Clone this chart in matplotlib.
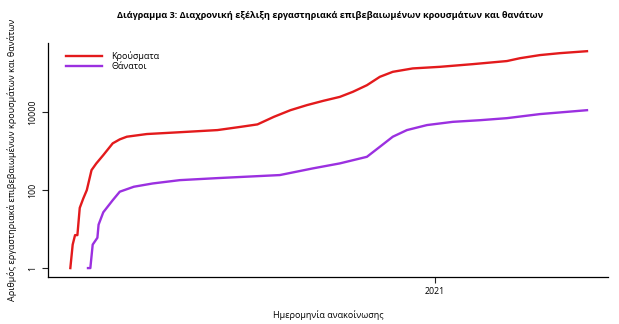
import pandas as pd
import matplotlib.pyplot as plt
import matplotlib.dates as mdates
from matplotlib.ticker import FixedLocator, FixedFormatter

plt.rcParams['font.family'] = ['Open Sans', 'DejaVu Sans']

# Cumulative confirmed cases
case_dates = ['2020-02-26', '2020-02-28', '2020-03-01', '2020-03-03', '2020-03-05',
              '2020-03-08', '2020-03-11', '2020-03-15', '2020-03-19', '2020-03-25',
              '2020-04-02', '2020-04-08', '2020-04-14', '2020-05-01', '2020-05-29',
              '2020-06-30', '2020-07-20', '2020-08-03', '2020-08-17', '2020-08-31',
              '2020-09-14', '2020-09-28', '2020-10-12', '2020-10-23', '2020-11-04',
              '2020-11-15', '2020-11-26', '2020-12-13', '2021-01-05', '2021-02-02',
              '2021-03-03', '2021-03-14', '2021-03-31', '2021-04-17', '2021-05-10']
case_values = [1, 4, 7, 7, 35,
               61, 100, 325, 480, 790,
               1580, 2000, 2340, 2740, 3050,
               3460, 4200, 4840, 7580, 11200,
               15100, 19500, 24600, 33100, 49000,
               80400, 108000, 132000, 145000, 170000,
               204000, 241000, 290000, 325000, 365000]

# Cumulative deaths
death_dates = ['2020-03-12', '2020-03-14', '2020-03-16', '2020-03-20', '2020-03-21',
               '2020-03-25', '2020-04-02', '2020-04-08', '2020-04-20', '2020-05-06',
               '2020-05-29', '2020-06-30', '2020-08-22', '2020-09-19', '2020-10-12',
               '2020-11-04', '2020-11-15', '2020-11-26', '2020-12-08', '2020-12-25',
               '2021-01-16', '2021-02-08', '2021-03-03', '2021-03-31', '2021-05-10']
death_values = [1, 1, 4, 6, 13,
                27, 55, 91, 122, 148,
                180, 203, 243, 360, 484,
                714, 1290, 2340, 3460, 4650,
                5630, 6200, 7000, 8900, 11200]

series_labels = ['Κρούσματα', 'Θάνατοι']
y_ticks = [1, 100, 10000]
y_tick_labels = ['1', '100', '10000']

fig = plt.figure(figsize=(6.19, 3.24), dpi=100)
ax = fig.add_axes([0.0775, 0.145, 0.905, 0.722])

ax.plot(pd.to_datetime(case_dates), case_values, color='#e31a1c', lw=1.7,
        label=series_labels[0])
ax.plot(pd.to_datetime(death_dates), death_values, color='#9b30e0', lw=1.7,
        label=series_labels[1])

ax.set_yscale('log')
ax.set_ylim(0.59, 589000)
ax.set_xlim(pd.Timestamp('2020-02-07'), pd.Timestamp('2021-05-28'))
ax.yaxis.set_major_locator(FixedLocator(y_ticks))
ax.yaxis.set_major_formatter(FixedFormatter(y_tick_labels))
ax.yaxis.set_minor_locator(FixedLocator([]))
ax.xaxis.set_major_locator(FixedLocator([mdates.date2num(pd.Timestamp('2021-01-01'))]))
ax.xaxis.set_major_formatter(FixedFormatter(['2021']))

for side in ['top', 'right']:
    ax.spines[side].set_visible(False)
for side in ['left', 'bottom']:
    ax.spines[side].set_linewidth(0.9)
ax.tick_params(axis='both', length=4, width=0.8, labelsize=6.3, color='#222222')
plt.setp(ax.get_yticklabels(), rotation=90, va='center')

ax.set_xlabel('Ημερομηνία ανακοίνωσης', fontsize=6.5, labelpad=10)
ax.set_ylabel('Αριθμός εργαστηριακά επιβεβαιωμένων κρουσμάτων και θανάτων',
              fontsize=6.5, labelpad=8)
fig.suptitle('Διάγραμμα 3: Διαχρονική εξέλιξη εργαστηριακά επιβεβαιωμένων κρουσμάτων και θανάτων',
             x=0.533, y=0.965, fontsize=6.6, fontweight='bold')

ax.legend(loc='upper left', bbox_to_anchor=(0.018, 1.0), frameon=False, fontsize=6.5,
          handlelength=4.0, labelspacing=0.1, handletextpad=1.0)

fig.savefig('out.png', dpi=100)
